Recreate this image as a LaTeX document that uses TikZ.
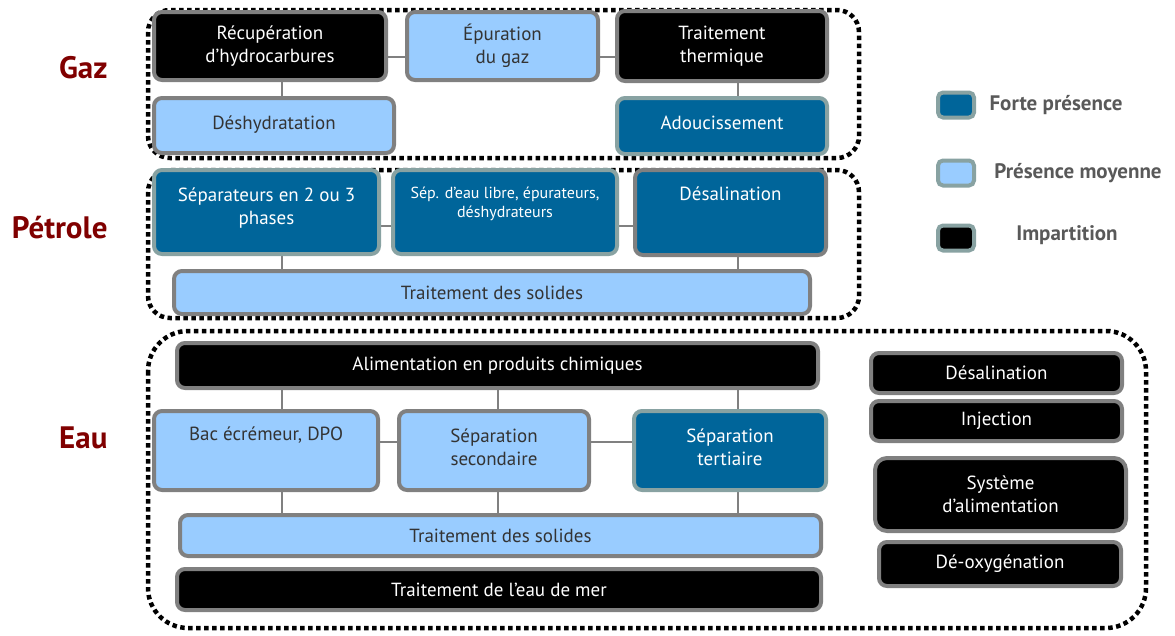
\documentclass[tikz,border=0pt]{standalone}
\usepackage{fontspec}
\setmainfont{PT Sans}
\usetikzlibrary{backgrounds}
\definecolor{dblue}{HTML}{00659A}
\definecolor{lblue}{HTML}{99CCFF}
\definecolor{bgray}{HTML}{808080}
\definecolor{tgray}{HTML}{88A2A2}
\definecolor{dtext}{HTML}{333333}
\definecolor{ltext}{HTML}{595959}
\definecolor{dred}{HTML}{800000}
\tikzset{
  box/.style={rounded corners=8pt, line width=4pt, inner sep=2pt, align=center,
    font=\fontsize{19}{23}\selectfont},
  blk/.style={box, fill=black, draw=bgray, text=white},
  lbl/.style={box, fill=lblue, draw=bgray, text=dtext},
  dbl/.style={box, fill=dblue, draw=tgray, text=white},
  dblg/.style={box, fill=dblue, draw=bgray, text=white},
  region/.style={draw=black, line width=4.5pt, dash pattern=on 4.5pt off 3.5pt, rounded corners=22pt},
  conn/.style={draw=bgray, line width=1.5pt},
  cat/.style={text=dred, anchor=east, font=\bfseries\fontsize{31}{34}\selectfont},
  leg/.style={text=ltext, font=\bfseries\fontsize{21}{24}\selectfont},
  legbox/.style={rounded corners=5pt, line width=4pt, draw=tgray, minimum width=36pt, minimum height=25pt, inner sep=0pt}
}
\newcommand\bx[7]{%
  \pgfmathsetmacro\cx{(#3+#5)/2}\pgfmathsetmacro\cy{(#4+#6)/2}%
  \pgfmathsetmacro\bw{#5-#3-4}\pgfmathsetmacro\bh{#6-#4-4}%
  \node[#2, minimum width=\bw pt, minimum height=\bh pt] (#1) at (\cx,\cy) {#7};}
\newcommand\bxt[8]{% top aligned, #8 = top gap
  \pgfmathsetmacro\cx{(#3+#5)/2}\pgfmathsetmacro\cy{(#4+#6)/2}%
  \pgfmathsetmacro\bw{#5-#3-8}\pgfmathsetmacro\bh{#6-#4-8}%
  \node[#2, minimum width=\bw pt, minimum height=\bh pt] (#1) at (\cx,\cy)
    {\parbox[c][\bh pt][t]{\bw pt}{\centering\vspace*{#8pt}#7}};}
\pgfdeclarelayer{bg}
\pgfsetlayers{bg,main}
\begin{document}
\begin{tikzpicture}[x=1pt,y=-1pt]
\useasboundingbox (0,0) rectangle (1175,635);

% regions
\draw[region] (148,10) rectangle (859,158);
\draw[region] (148,170) rectangle (859,318);
\draw[region, rounded corners=40pt] (148,331) rectangle (1146,628);

% category labels
\node[cat] (gaz) at (111,68) {Gaz};
\node[cat] (pet) at (111,228) {Pétrole};
\node[cat] (eau) at (111,438) {Eau};

% Gaz
\bx{rec}{blk}{152}{10}{388}{82}{Récupération\\d’hydrocarbures}
\bx{epu}{lbl}{405}{10}{600}{82}{Épuration\\du gaz}
\bx{tth}{blk}{615}{9}{829}{83}{Traitement\\thermique}
\bx{des}{lbl}{152}{96}{396}{155}{Déshydratation\\[-17pt]}
\bx{ado}{dbl}{615}{96}{829}{156}{Adoucissement\\[-17pt]}

% Petrole
\bx{sep}{dbl}{152}{168}{381}{256}{Séparateurs en 2 ou 3\\phases\\[-12pt]}
\bx{sepe}{dbl,font=\fontsize{16}{19}\selectfont}{391}{168}{619}{256}{Sép. d’eau libre, épurateurs,\\déshydrateurs\\[0pt]}
\bxt{dsl}{dblg}{633}{168}{828}{257}{Désalination}{15}
\bx{tdsp}{lbl}{172}{269}{812}{316}{Traitement des solides}

% Eau
\bx{ali}{blk}{175}{341}{820}{390}{Alimentation en produits chimiques}
\bxt{bac}{lbl}{152}{409}{380}{492}{Bac écrémeur, DPO}{14}
\bx{ssec}{lbl}{397}{409}{591}{492}{Séparation\\secondaire\\[-16pt]}
\bx{ster}{dbl}{632}{409}{828}{492}{Séparation\\tertiaire\\[-16pt]}
\bx{tdse}{lbl}{178}{513}{823}{558}{Traitement des solides}
\bx{tem}{blk}{175}{567}{823}{612}{Traitement de l’eau de mer}

\bx{desal}{blk}{869}{351}{1124}{395}{Désalination}
\bx{inj}{blk}{869}{399}{1124}{443}{Injection}
\bx{sys}{blk,rounded corners=12pt}{873}{456}{1128}{533}{Système\\d’alimentation}
\bx{deo}{blk}{877}{540}{1123}{588}{Dé-oxygénation}

% legend
\node[legbox, fill=dblue] (lg1) at (956,105) {};
\node[legbox, fill=lblue] (lg2) at (956,173) {};
\node[legbox, fill=black] (lg3) at (956,238) {};
\node[leg] (lt1) at (1056,105) {Forte présence};
\node[leg] (lt2) at (1078,173) {Présence moyenne};
\node[leg] (lt3) at (1067,235) {Impartition};

% connectors
\coordinate (xa) at (282,0);
\coordinate (xb) at (498,0);
\coordinate (xc) at (738,0);
\coordinate (yg) at (0,57);
\coordinate (yp) at (0,226);
\coordinate (ye) at (0,442);
\begin{pgfonlayer}{bg}
\draw[conn] (rec.east |- yg) -- (epu.west |- yg);
\draw[conn] (epu.east |- yg) -- (tth.west |- yg);
\draw[conn] (rec.south -| xa) -- (des.north -| xa);
\draw[conn] (tth.south -| xc) -- (ado.north -| xc);
\draw[conn] (sep.east |- yp) -- (sepe.west |- yp);
\draw[conn] (sepe.east |- yp) -- (dsl.west |- yp);
\draw[conn] (sep.south -| xa) -- (tdsp.north -| xa);
\draw[conn] (dsl.south -| xc) -- (tdsp.north -| xc);
\draw[conn] (ali.south -| xa) -- (bac.north -| xa);
\draw[conn] (ali.south -| xb) -- (ssec.north -| xb);
\draw[conn] (ali.south -| xc) -- (ster.north -| xc);
\draw[conn] (bac.east |- ye) -- (ssec.west |- ye);
\draw[conn] (ssec.east |- ye) -- (ster.west |- ye);
\draw[conn] (bac.south -| xa) -- (tdse.north -| xa);
\draw[conn] (ssec.south -| xb) -- (tdse.north -| xb);
\draw[conn] (ster.south -| xc) -- (tdse.north -| xc);
\end{pgfonlayer}
\end{tikzpicture}
\end{document}
